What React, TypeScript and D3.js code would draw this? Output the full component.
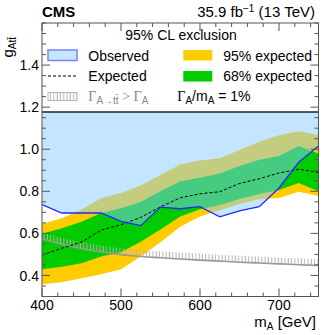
import React from "react";
import * as d3 from "d3";

const W = 324;
const H = 335;
const plot = { left: 42, right: 318.5, top: 23, bottom: 296.5 };
const font = "Liberation Sans, Arial, sans-serif";
const serif = "Liberation Serif, Times New Roman, serif";

// mass points (GeV) and limits on the coupling
const masses = [400, 425, 450, 475, 500, 525, 550, 575, 600, 625, 650, 675, 700, 725, 750];
const observed = [0.737, 0.697, 0.697, 0.697, 0.657, 0.637, 0.725, 0.717, 0.727, 0.679, 0.707, 0.727, 0.816, 0.938, 1.015];
const expected = [0.497, 0.529, 0.559, 0.616, 0.641, 0.676, 0.726, 0.769, 0.788, 0.798, 0.837, 0.86, 0.887, 0.905, 0.89];
const exp68Lo = [0.43, 0.442, 0.458, 0.49, 0.51, 0.56, 0.618, 0.68, 0.715, 0.735, 0.763, 0.787, 0.806, 0.84, 0.8];
const exp68Hi = [0.598, 0.624, 0.655, 0.697, 0.719, 0.75, 0.8, 0.848, 0.865, 0.885, 0.92, 0.95, 0.968, 1.015, 0.98];
const exp95Lo = [0.358, 0.368, 0.387, 0.406, 0.43, 0.49, 0.558, 0.632, 0.68, 0.71, 0.74, 0.763, 0.768, 0.798, 0.778];
const exp95Hi = [0.645, 0.672, 0.714, 0.767, 0.792, 0.828, 0.877, 0.927, 0.947, 0.957, 0.996, 1.036, 1.067, 1.085, 1.068];
// Gamma(A->tt) > Gamma(A) boundary
const widthLimit = [0.575, 0.548, 0.528, 0.512, 0.499, 0.49, 0.484, 0.478, 0.473, 0.468, 0.463, 0.459, 0.455, 0.451, 0.447];

const xTickLabels = [400, 500, 600, 700];
const yTickLabels = [0.4, 0.6, 0.8, 1.0, 1.2, 1.4];
const legendFloor = 1.177; // bottom edge of the legend box, in g units

const yellow = "#ffcc00";
const green = "#00cc00";
const obsFill = "rgba(138,204,255,0.5)";
const obsLine = "#2626ff";
const axisCol = "#555";
const hatchCol = "#b3b3b3";

export default function App() {
  const x = d3.scaleLinear().domain([400, 750]).range([plot.left, plot.right]);
  const y = d3.scaleLinear().domain([0.3, 1.6]).range([plot.bottom, plot.top]);
  const idx = masses.map((_, i) => i);

  const band = (lo: number[], hi: number[]) =>
    d3.area<number>().x((i) => x(masses[i])).y0((i) => y(lo[i])).y1((i) => y(hi[i]))(idx) || "";
  const line = (vals: number[]) =>
    d3.line<number>().x((i) => x(masses[i])).y((i) => y(vals[i]))(idx) || "";

  const obsArea =
    d3.area<number>().x((i) => x(masses[i])).y0((i) => y(observed[i])).y1(y(legendFloor))(idx) || "";
  const hatchArea =
    d3
      .area<number>()
      .curve(d3.curveMonotoneX)
      .x((i) => x(masses[i]))
      .y0((i) => y(widthLimit[i]))
      .y1((i) => y(widthLimit[i]) - 6.5)(idx) || "";
  const hatchLine =
    d3.line<number>().curve(d3.curveMonotoneX).x((i) => x(masses[i])).y((i) => y(widthLimit[i]))(idx) || "";

  const yMinor = d3.range(0.3, 1.6001, 0.05);
  const xMinor = d3.range(400, 751, 20);
  const isMajorY = (v: number) => yTickLabels.some((t) => Math.abs(t - v) < 1e-6);
  const isMajorX = (v: number) => xTickLabels.includes(v);
  const floorY = y(legendFloor);

  return (
    <svg width={W} height={H} style={{ position: "absolute", left: 0, top: 0 }} fontFamily={font}>
      <defs>
        <pattern id="hatch" width={3.3} height={10} patternUnits="userSpaceOnUse">
          <rect x={0.6} y={0} width={1} height={10} fill={hatchCol} />
        </pattern>
        <clipPath id="plotclip">
          <rect x={plot.left} y={plot.top} width={plot.right - plot.left} height={plot.bottom - plot.top} />
        </clipPath>
      </defs>
      <rect width={W} height={H} fill="white" />

      <g clipPath="url(#plotclip)">
        <path d={band(exp95Lo, exp95Hi)} fill={yellow} />
        <path d={band(exp68Lo, exp68Hi)} fill={green} />
        <path d={hatchArea} fill="url(#hatch)" />
        <path d={hatchLine} fill="none" stroke="#999" strokeWidth={1.6} />
        <path d={obsArea} fill={obsFill} />
        <path d={line(expected)} fill="none" stroke="#000" strokeWidth={1} strokeDasharray="3,2" />
        <path d={line(observed)} fill="none" stroke={obsLine} strokeWidth={1.3} />
      </g>

      {/* legend box */}
      <rect x={plot.left} y={plot.top} width={plot.right - plot.left} height={floorY - plot.top} fill="white" />
      <line x1={plot.left} x2={plot.right} y1={floorY} y2={floorY} stroke="#222" strokeWidth={1.6} />
      <g fontSize={14}>
        <text x={181} y={40} textAnchor="middle">95% CL exclusion</text>
        <rect x={48} y={50} width={29} height={10.5} fill="#c4e6ff" stroke="#7f7fff" strokeWidth={1.5} />
        <text x={88.3} y={60.5}>Observed</text>
        <rect x={183.3} y={50} width={29} height={10.5} fill={yellow} />
        <text x={223.3} y={60.5}>95% expected</text>
        <line x1={48} x2={77} y1={76} y2={76} stroke="#000" strokeDasharray="3,2" />
        <text x={88.3} y={81}>Expected</text>
        <rect x={183.3} y={71} width={29} height={10.5} fill={green} />
        <text x={223.3} y={81}>68% expected</text>
        <rect x={48} y={92.5} width={29} height={8} fill="url(#hatch)" stroke={hatchCol} strokeWidth={1} />
        <text x={88.3} y={100.5} fill="#888" fontFamily={serif}>
          Γ<tspan dy={3} fontSize={10} fontFamily={font}>A→tt̄</tspan>
          <tspan dy={-3}> &gt; Γ</tspan>
          <tspan dy={3} fontSize={10} fontFamily={font}>A</tspan>
        </text>
        <text x={177.3} y={100.5}>
          <tspan fontFamily={serif}>Γ</tspan>
          <tspan dy={3} fontSize={10}>A</tspan>
          <tspan dy={-3}>/m</tspan>
          <tspan dy={3} fontSize={10}>A</tspan>
          <tspan dy={-3}> = 1%</tspan>
        </text>
      </g>

      {/* frame and ticks */}
      <rect
        x={plot.left}
        y={plot.top}
        width={plot.right - plot.left}
        height={plot.bottom - plot.top}
        fill="none"
        stroke={axisCol}
        strokeWidth={1}
      />
      <g stroke={axisCol} strokeWidth={1}>
        {yMinor.map((v) => {
          const len = isMajorY(v) ? 8 : 4;
          return (
            <g key={"y" + v}>
              <line x1={plot.left} x2={plot.left + len} y1={y(v)} y2={y(v)} />
              <line x1={plot.right} x2={plot.right - len} y1={y(v)} y2={y(v)} />
            </g>
          );
        })}
        {xMinor.map((v) => {
          const len = isMajorX(v) ? 8 : 4;
          return (
            <g key={"x" + v}>
              <line x1={x(v)} x2={x(v)} y1={plot.bottom} y2={plot.bottom - len} />
              <line x1={x(v)} x2={x(v)} y1={plot.top} y2={plot.top + len} />
            </g>
          );
        })}
      </g>
      <g fontSize={14}>
        {yTickLabels.map((v) => (
          <text key={v} x={plot.left - 3} y={y(v)} dy="0.36em" textAnchor="end">
            {v.toFixed(1)}
          </text>
        ))}
        {xTickLabels.map((v) => (
          <text key={v} x={x(v)} y={310} textAnchor="middle">
            {v}
          </text>
        ))}
      </g>

      {/* axis titles */}
      <text x={316} y={327} textAnchor="end" fontSize={15}>
        m<tspan dy={3} fontSize={10}>A</tspan>
        <tspan dy={-3}>{"  [GeV]"}</tspan>
      </text>
      <text transform="translate(13,37) rotate(-90)" textAnchor="end" fontSize={15}>
        g<tspan dy={3} fontSize={10}>Att̄</tspan>
      </text>

      {/* header */}
      <text x={42} y={17} fontSize={15} fontWeight="bold">CMS</text>
      <text x={315} y={17} fontSize={15} textAnchor="end">
        35.9 fb<tspan dy={-5} fontSize={10}>−1</tspan>
        <tspan dy={5}> (13 TeV)</tspan>
      </text>
    </svg>
  );
}
